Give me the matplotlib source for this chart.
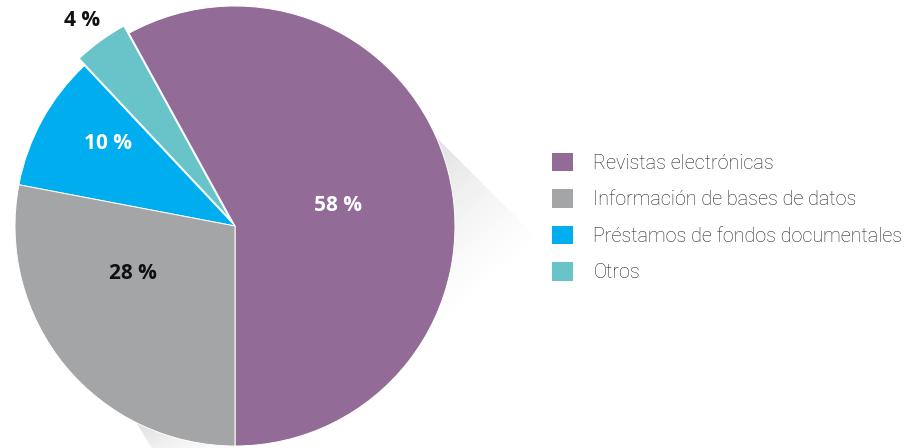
import numpy as np
import matplotlib.pyplot as plt
from matplotlib.patches import Patch, Polygon

# Datos
categorias = ['Revistas electrónicas', 'Información de bases de datos',
              'Préstamos de fondos documentales', 'Otros']
porcentajes = [58, 28, 10, 4]
colores = ['#926c96', '#a4a5a7', '#00aeef', '#68c4c8']

# orden de dibujo de los sectores (antihorario desde abajo)
orden = [0, 3, 2, 1]
separacion = {3: 0.04}

W, H = 915, 448
fig = plt.figure(figsize=(W / 100, H / 100), dpi=100)

# --- sombras detrás del círculo (coordenadas en píxeles) ---
bg = fig.add_axes([0, 0, 1, 1], zorder=0)
bg.set_xlim(0, W)
bg.set_ylim(H, 0)
bg.axis('off')

Y, X = np.mgrid[0:H, 0:W] + 0.5


def sombra(poligono, origen, direccion, largo, alfa):
    d = np.array(direccion, float)
    d /= np.hypot(*d)
    t = ((X - origen[0]) * d[0] + (Y - origen[1]) * d[1]) / largo
    a = alfa * np.clip(1 - t, 0, 1) ** 1.4
    img = np.zeros((H, W, 4))
    img[..., :3] = 0.45
    img[..., 3] = a
    poly = Polygon(poligono, closed=True, transform=bg.transData,
                   facecolor='none', edgecolor='none')
    bg.add_patch(poly)
    im = bg.imshow(img, extent=(0, W, H, 0), interpolation='bilinear')
    im.set_clip_path(poly)


sombra([(425, 126), (541, 242), (440, 340), (400, 300)],
       origen=(430, 140), direccion=(1, 1.1), largo=150, alfa=0.22)
sombra([(120, 395), (160, 462), (240, 462), (240, 430)],
       origen=(135, 405), direccion=(0.5, 1), largo=90, alfa=0.3)

# --- gráfico circular ---
cx, cy, r = 235, 226, 220
half = 235
ax = fig.add_axes([(cx - half) / W, (H - cy - half) / H, 2 * half / W, 2 * half / H],
                  zorder=1)
lim = half / r
ax.axis('off')

ax.pie([porcentajes[i] for i in orden],
       colors=[colores[i] for i in orden],
       explode=[separacion.get(i, 0) for i in orden],
       startangle=-90, counterclock=True, radius=1,
       wedgeprops=dict(edgecolor='white', linewidth=0.7))
ax.set_xlim(-lim, lim)
ax.set_ylim(-lim, lim)
ax.set_aspect('equal')

# etiquetas de porcentaje
pos_etiquetas = [(0.468, 0.091), (-0.464, -0.214), (-0.577, 0.377), (-0.695, 0.936)]
color_texto = ['white', '#111111', 'white', '#111111']
for v, (x, y), c in zip(porcentajes, pos_etiquetas, color_texto):
    ax.text(x, y, f'{v} %', ha='center', va='center', color=c,
            fontsize=15, fontweight='bold', family='Open Sans')

# leyenda
handles = [Patch(facecolor=c, edgecolor='none') for c in colores]
fig.legend(handles, categorias, loc='upper left',
           bbox_to_anchor=(552 / W, 1 - 153 / H),
           frameon=False, handlelength=1.05, handleheight=1.05,
           handletextpad=1.05, labelspacing=0.84, borderpad=0,
           borderaxespad=0,
           prop=dict(family='Roboto', weight='light', size=14.2),
           labelcolor='#222222')

fig.savefig('out.png', dpi=100, facecolor='white')
